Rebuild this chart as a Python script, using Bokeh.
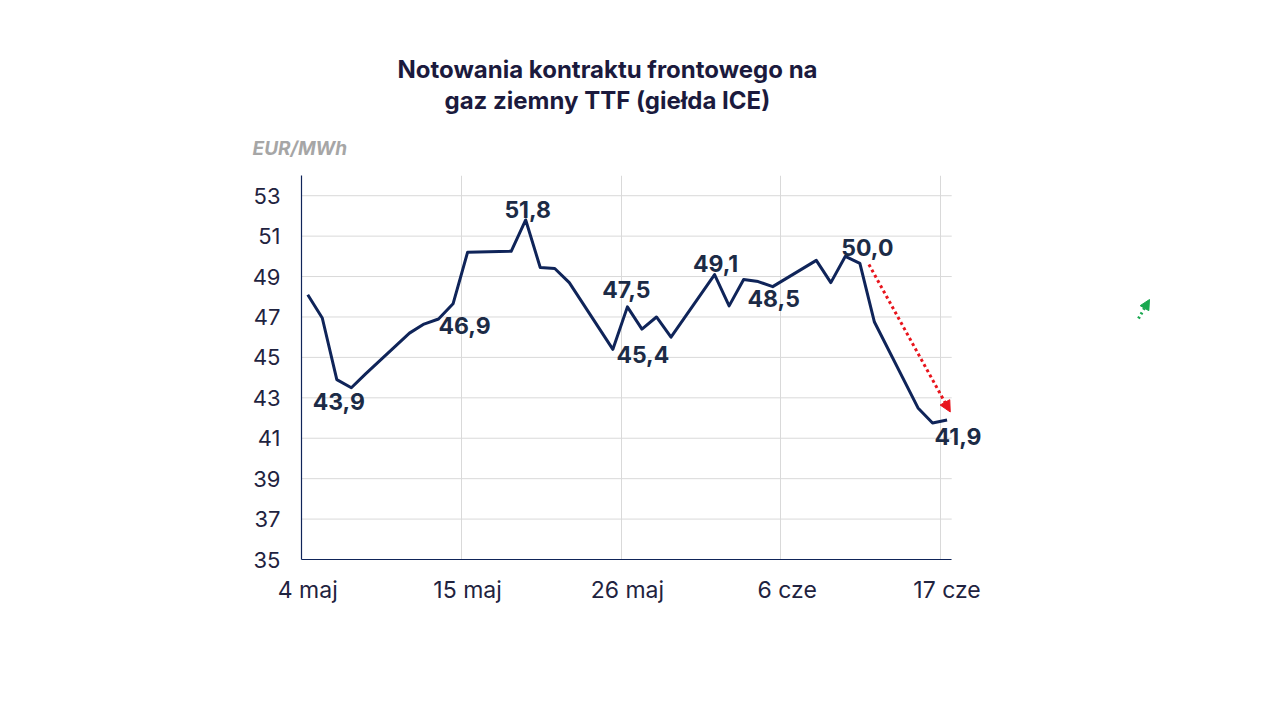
from datetime import date
from bokeh.plotting import figure
from bokeh.models import Label, Arrow, NormalHead, FixedTicker, Range1d, Title
from bokeh.embed import file_html
from bokeh.resources import INLINE

# ---------------- data ----------------
start_date = "2026-05-04"
dates = [
    "2026-05-04", "2026-05-05", "2026-05-06", "2026-05-07", "2026-05-08",
    "2026-05-11", "2026-05-12", "2026-05-13", "2026-05-14", "2026-05-15",
    "2026-05-18", "2026-05-19", "2026-05-20", "2026-05-21", "2026-05-22",
    "2026-05-25", "2026-05-26", "2026-05-27", "2026-05-28", "2026-05-29",
    "2026-06-01", "2026-06-02", "2026-06-03", "2026-06-04", "2026-06-05",
    "2026-06-08", "2026-06-09", "2026-06-10", "2026-06-11", "2026-06-12",
    "2026-06-15", "2026-06-16", "2026-06-17",
]
values = [
    48.1, 46.95, 43.9, 43.5, 44.2,
    46.2, 46.65, 46.9, 47.65, 50.2,
    50.25, 51.8, 49.45, 49.4, 48.7,
    45.4, 47.5, 46.4, 47.0, 46.0,
    49.1, 47.55, 48.85, 48.75, 48.5,
    49.8, 48.7, 50.0, 49.65, 46.75,
    42.5, 41.75, 41.9,
]
label_dates = ["2026-05-06", "2026-05-13", "2026-05-19", "2026-05-25", "2026-05-26",
               "2026-06-01", "2026-06-05", "2026-06-10", "2026-06-17"]
tick_dates = ["2026-05-04", "2026-05-15", "2026-05-26", "2026-06-06", "2026-06-17"]
tick_labels = ["4 maj", "15 maj", "26 maj", "6 cze", "17 cze"]
y_ticks = [35, 37, 39, 41, 43, 45, 47, 49, 51, 53]
axis_end_date = "2026-06-17"   # last slot shown on the axis
# trend arrow (red): start/end in (date, value)
trend_start = ("2026-06-11", 49.6)
trend_end = ("2026-06-17", 42.3)

title_lines = ["Notowania kontraktu frontowego na", "gaz ziemny TTF (giełda ICE)"]
unit_text = "EUR/MWh"

# ---------------- helpers ----------------
d0 = date.fromisoformat(start_date)
SLOT = 0.43  # position of a day's point inside its slot


def day(d):
    return (date.fromisoformat(d) - d0).days


xs = [day(d) + SLOT for d in dates]

# ---------------- styles ----------------
NAVY = "#0f2459"
TXT = "#1c2b46"
AXIS_TXT = "#1f2340"
GRID = "#d9d9d9"
FONT = "Inter"
GREEN = "#1aa850"
RED = "#e8141c"

label_offsets = {  # (dx, dy) in px, dy positive = up
    "2026-05-06": (2, -22),
    "2026-05-13": (26, -7),
    "2026-05-19": (2, 10),
    "2026-05-25": (30, -5),
    "2026-05-26": (-1, 17),
    "2026-06-01": (1, 11),
    "2026-06-05": (1, -12),
    "2026-06-10": (22, 9),
    "2026-06-17": (11, -16),
}

W, H = 1264, 704
FRAME_W, FRAME_H = 880, 384
PX_PER_DAY = 14.53
BL, BT = 301, 175
p = figure(width=W, height=H, output_backend="svg", toolbar_location=None,
           x_range=Range1d(0, FRAME_W / PX_PER_DAY), y_range=Range1d(35, 54),
           min_border_left=BL, min_border_right=W - BL - FRAME_W,
           min_border_top=BT, min_border_bottom=H - BT - FRAME_H)
p.outline_line_color = None
p.background_fill_color = "white"
p.border_fill_color = "white"

x_axis_end = day(axis_end_date) + 0.75

# grid
p.xgrid.ticker = FixedTicker(ticks=[day(d) for d in tick_dates])
p.xgrid.grid_line_color = GRID
p.ygrid.visible = False
p.segment(x0=[0] * len(y_ticks), x1=[x_axis_end] * len(y_ticks), y0=y_ticks, y1=y_ticks,
          line_color=GRID, line_width=1, level="underlay")

# axes
p.xaxis.ticker = FixedTicker(ticks=[day(d) + SLOT for d in tick_dates])
p.xaxis.major_label_overrides = {day(d) + SLOT: t for d, t in zip(tick_dates, tick_labels)}
p.xaxis.bounds = (0, x_axis_end)
p.yaxis.ticker = FixedTicker(ticks=y_ticks)
for ax in (p.xaxis[0], p.yaxis[0]):
    ax.axis_line_color = NAVY
    ax.axis_line_width = 1.2
    ax.major_tick_line_color = None
    ax.minor_tick_line_color = None
    ax.major_label_text_font = FONT
    ax.major_label_text_color = AXIS_TXT
p.xaxis.major_label_text_font_size = "23px"
p.yaxis.major_label_text_font_size = "22px"
p.xaxis.major_label_standoff = 10
p.yaxis.major_label_standoff = 15

# line
p.line(xs, values, line_color=NAVY, line_width=3, line_join="round")

# data labels
for d in label_dates:
    i = dates.index(d)
    dx, dy = label_offsets[d]
    p.add_layout(Label(x=xs[i], y=values[i], x_offset=dx, y_offset=dy,
                       text=f"{values[i]:.1f}".replace(".", ","),
                       text_font=FONT, text_font_size="23px", text_font_style="bold",
                       text_color=TXT, text_align="center", text_baseline="middle"))

# red trend arrow
p.add_layout(Arrow(x_start=day(trend_start[0]) + 1.05, y_start=trend_start[1],
                   x_end=day(trend_end[0]) + 0.65, y_end=trend_end[1],
                   line_color=RED, line_width=3, line_dash="3 3",
                   end=NormalHead(size=11, fill_color=RED, line_color=RED)))

# small green decorative arrow (canvas units, y from top)
p.add_layout(Arrow(x_start=1138, y_start=318, x_end=1149, y_end=299,
                   start_units="canvas", end_units="canvas",
                   line_color=GREEN, line_width=3, line_dash="2 3",
                   end=NormalHead(size=10, fill_color=GREEN, line_color=GREEN)))

# title & unit (stacked above the frame; first added is closest)
p.add_layout(Title(text=unit_text, align="left", offset=-49, standoff=32,
                   text_font=FONT, text_font_size="19px", text_font_style="bold italic",
                   text_color="#a6a6a6"), "above")
p.add_layout(Title(text=title_lines[1], align="left", offset=143, standoff=4,
                   vertical_align="top",
                   text_font=FONT, text_font_size="24px", text_font_style="bold",
                   text_color="#1b1a3d"), "above")
p.add_layout(Title(text=title_lines[0], align="left", offset=96, standoff=0,
                   text_font=FONT, text_font_size="24px", text_font_style="bold",
                   text_color="#1b1a3d"), "above")

open("out.html", "w").write(file_html(p, INLINE))
